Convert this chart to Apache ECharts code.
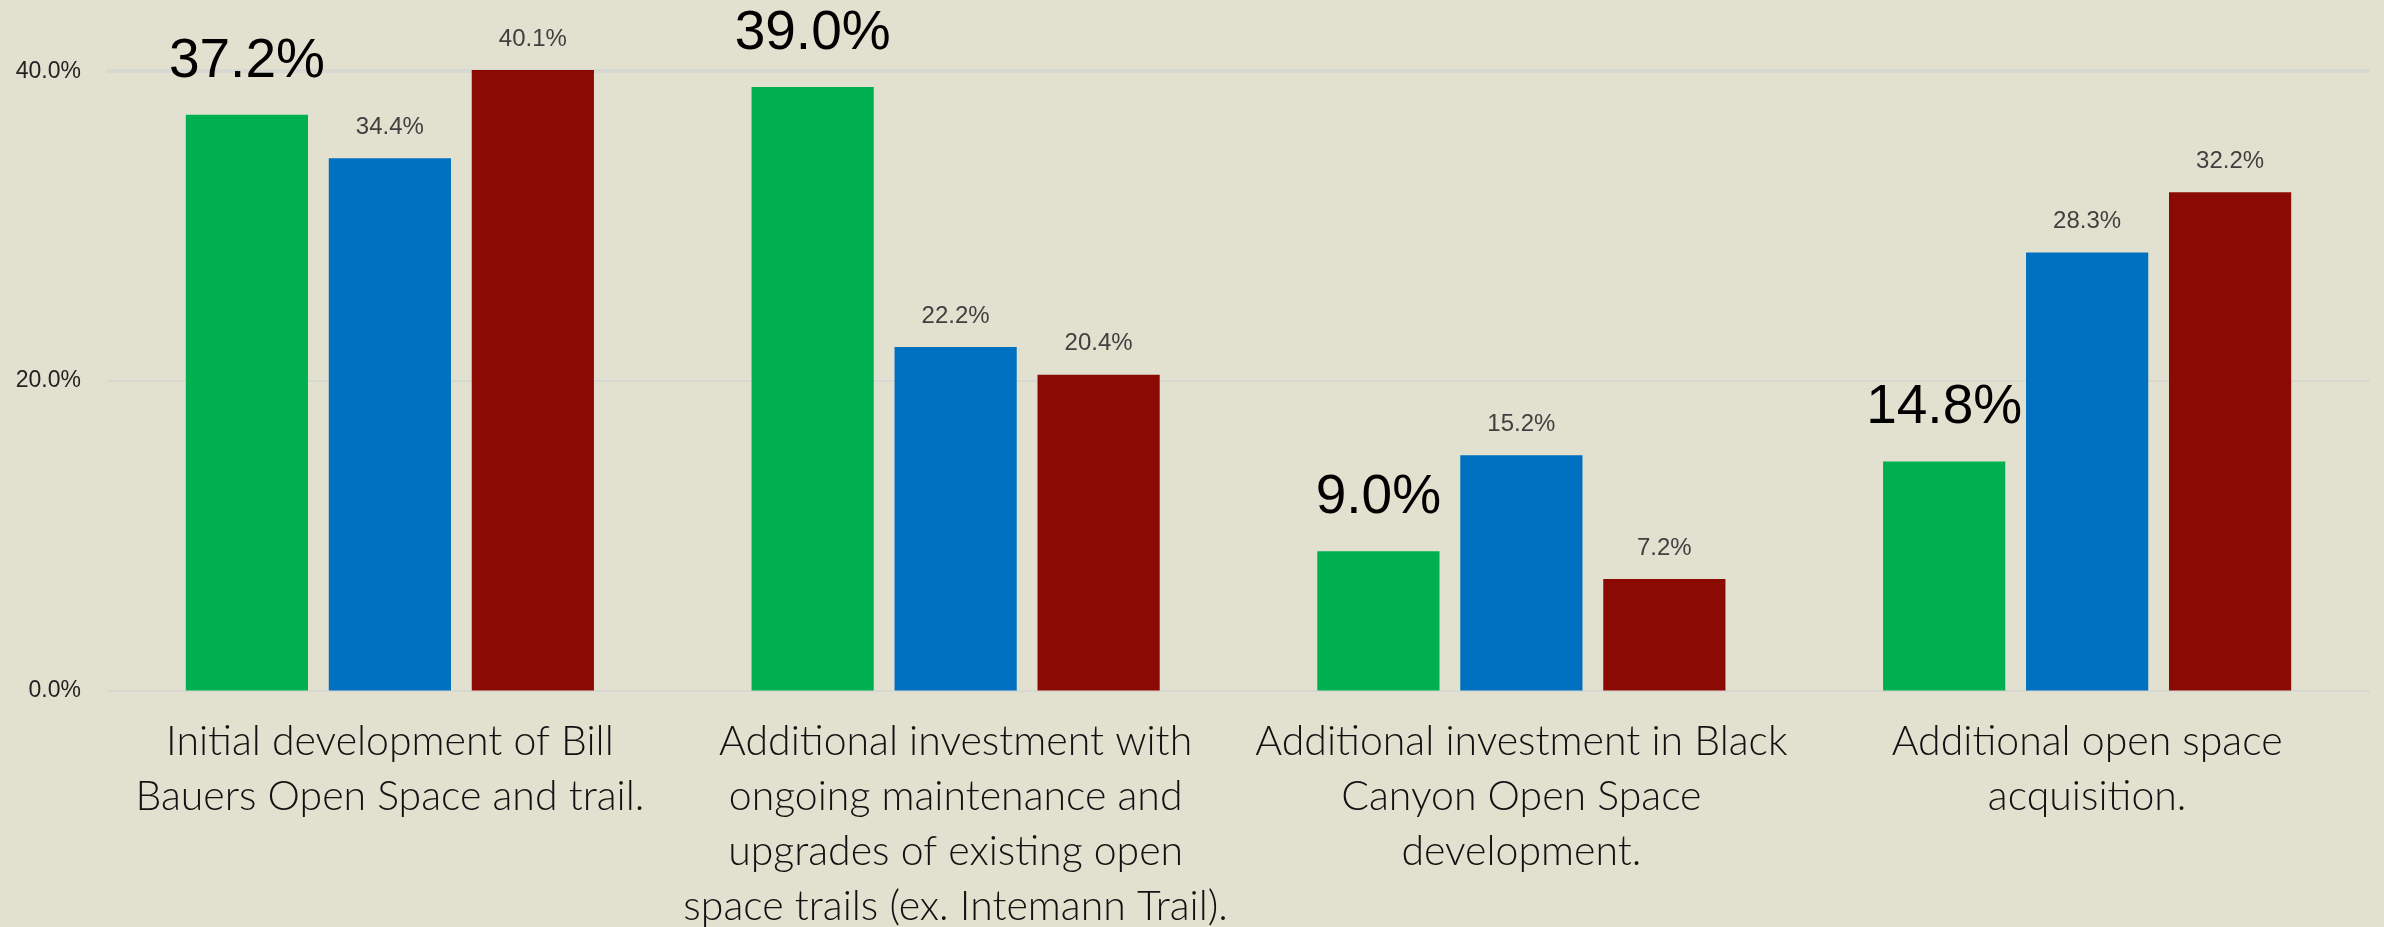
<!DOCTYPE html>
<html lang="en">
<head>
  <meta charset="UTF-8">
  <title>Open space priorities</title>
  <script src="https://cdn.jsdelivr.net/npm/echarts@6/dist/echarts.min.js"></script>
  <style>
    html, body { margin: 0; padding: 0; background: #e2e1d0; }
    #wrap { width: 2384px; height: 927px; }
  </style>
</head>
<body>
<div id="wrap"></div>
<script>
  // categories (line breaks as in the original)
  const categories = [
    "Initial development of Bill\nBauers Open Space and trail.",
    "Additional investment with\nongoing maintenance and\nupgrades of existing open\nspace trails (ex. Intemann Trail).",
    "Additional investment in Black\nCanyon Open Space\ndevelopment.",
    "Additional open space\nacquisition."
  ]
  const greenValues = [37.2, 39.0, 9.0, 14.8]
  const blueValues = [34.4, 22.2, 15.2, 28.3]
  const redValues = [40.1, 20.4, 7.2, 32.2]
  const yTicks = [0, 20, 40]

  const chart = echarts.init(document.querySelector("#wrap"))

  const pct = p => p.value.toFixed(1) + "%"
  const smallLabel = {
    show: true,
    position: "top",
    distance: 19,
    formatter: pct,
    fontFamily: "Liberation Sans",
    fontSize: 24,
    color: "#404040"
  }

  const ops = {
    backgroundColor: "#e2e1d0",
    animation: false,
    // labels run to the bottom edge, so don't let the grid shrink to fit them
    grid: { left: 107, right: 14, top: 70, bottom: 236.5, outerBoundsMode: "none" },
    xAxis: {
      type: "category",
      data: categories,
      axisLine: { show: false },
      axisTick: { show: false },
      axisLabel: {
        margin: 24,
        interval: 0,
        fontFamily: "Lato",
        fontWeight: 300,
        fontSize: 41,
        lineHeight: 55,
        color: "#111"
      }
    },
    yAxis: {
      type: "value",
      min: yTicks[0],
      max: 40.1,
      interval: yTicks[1] - yTicks[0],
      axisLine: { show: false },
      axisTick: { show: false },
      splitLine: { lineStyle: { color: "#d8d8d2", width: 2 } },
      axisLabel: {
        showMaxLabel: false,
        margin: 26,
        fontFamily: "Liberation Sans",
        fontSize: 23,
        color: "#222",
        formatter: v => v.toFixed(1) + "%"
      }
    },
    series: [
      {
        name: "green",
        type: "bar",
        data: greenValues,
        barWidth: "21.6%",
        barGap: "17%",
        itemStyle: { color: "#00b050" },
        label: {
          show: true,
          position: "top",
          distance: 26,
          formatter: pct,
          fontFamily: "Liberation Sans",
          fontSize: 55,
          color: "#000"
        }
      },
      {
        name: "blue",
        type: "bar",
        data: blueValues,
        barWidth: "21.6%",
        barGap: "17%",
        itemStyle: { color: "#0070c0" },
        label: smallLabel
      },
      {
        name: "red",
        type: "bar",
        data: redValues,
        barWidth: "21.6%",
        barGap: "17%",
        itemStyle: { color: "#8b0a04" },
        label: smallLabel
      }
    ]
  }

  chart.setOption(ops)
</script>
</body>
</html>
